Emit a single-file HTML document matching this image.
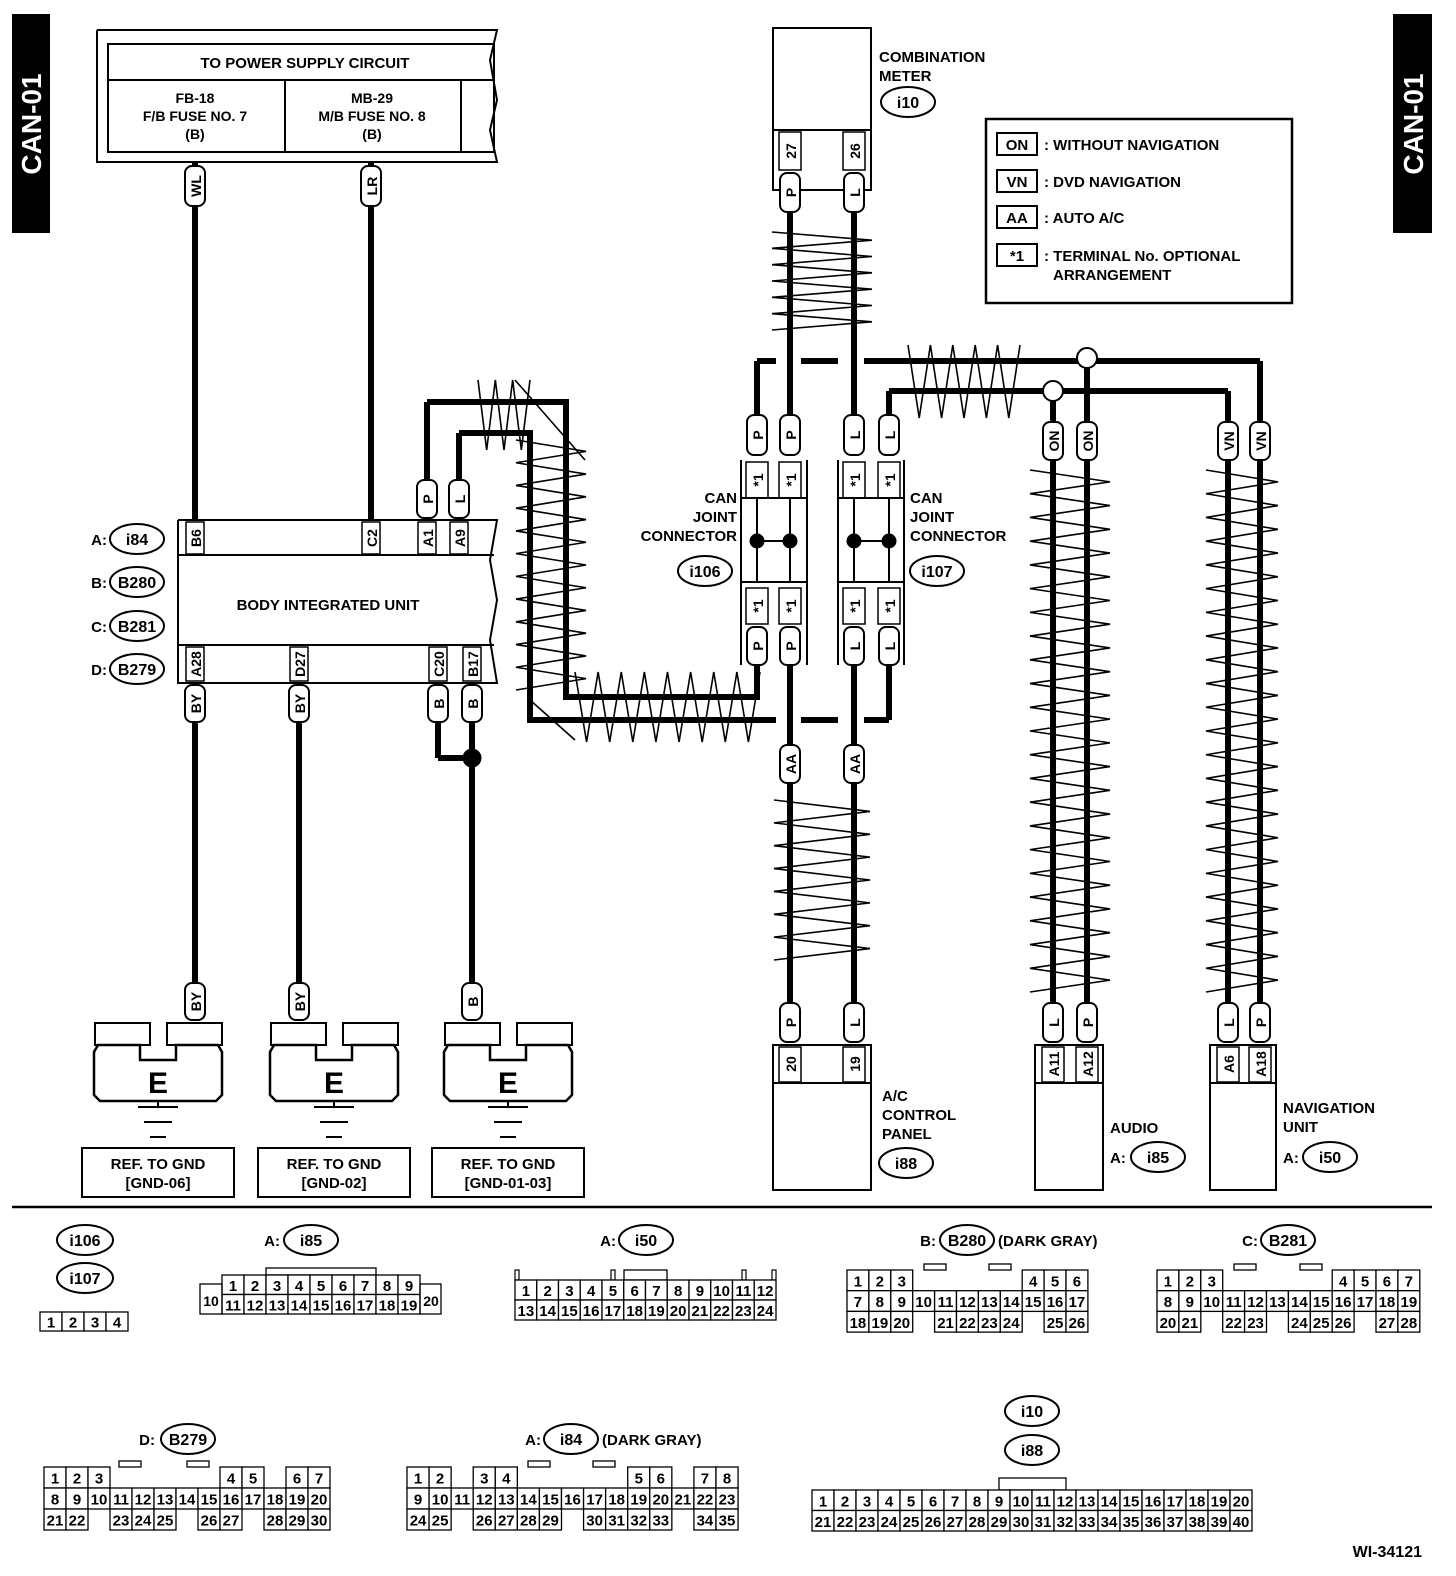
<!DOCTYPE html>
<html><head><meta charset="utf-8"><style>
html,body{margin:0;padding:0;background:#fff}
svg{display:block}
text{font-family:"Liberation Sans",Arial,sans-serif;font-weight:bold;fill:#000}
</style></head><body>
<svg id="s" width="1456" height="1576" viewBox="0 0 1456 1576" xmlns="http://www.w3.org/2000/svg">
<rect x="0" y="0" width="1456" height="1576" fill="#fff"/>
<rect x="12" y="14" width="38" height="219" fill="#000"/>
<text x="0" y="0" transform="translate(41,124) rotate(-90)" text-anchor="middle" font-size="28" style="fill:#fff">CAN-01</text>
<rect x="1393" y="14" width="39" height="219" fill="#000"/>
<text x="0" y="0" transform="translate(1423,124) rotate(-90)" text-anchor="middle" font-size="28" style="fill:#fff">CAN-01</text>
<g id="g" stroke="#000" fill="none"></g>
<g id="t"></g>
</svg>
<script>
const NS="http://www.w3.org/2000/svg";
const G=document.getElementById('g'),T=document.getElementById('t');
function el(p,tag,a,txt){const e=document.createElementNS(NS,tag);for(const k in a)e.setAttribute(k,a[k]);if(txt!==undefined)e.textContent=txt;p.appendChild(e);return e;}
function line(x1,y1,x2,y2,w){el(G,'line',{x1,y1,x2,y2,'stroke-width':w||2});}
function pl(pts,w){el(G,'polyline',{points:pts.map(p=>p.join(',')).join(' '),'stroke-width':w||2,'stroke-linejoin':'miter'});}
function rect(x,y,w,h,sw,fill){el(G,'rect',{x,y,width:w,height:h,'stroke-width':sw||2,fill:fill||'none'});}
function tx(x,y,s,fs,anchor,rot){const a={x,y,'font-size':fs||15,'text-anchor':anchor||'start'};if(rot){a.x=0;a.y=0;a.transform=`translate(${x},${y}) rotate(-90)`;}el(T,'text',a,s);}
function ell(cx,cy,rx,ry,s,fs){el(G,'ellipse',{cx,cy,rx,ry,'stroke-width':2,fill:'#fff'});tx(cx,cy+6,s,fs||16,'middle');}
function pill(x,y1,y2,s){el(G,'rect',{x:x-10,y:y1,width:20,height:y2-y1,rx:7,'stroke-width':2,fill:'#fff'});tx(x+6,(y1+y2)/2,s,14,'middle',1);}
function W(x1,y1,x2,y2){line(x1,y1,x2,y2,6);}
function zigV(xl,xr,y1,y2,n){let p=[];const st=(y2-y1)/n;for(let i=0;i<=n;i++)p.push([i%2?xr:xl,y1+i*st]);pl(p,1.6);}
function zigH(x1,x2,yt,yb,n){let p=[];const st=(x2-x1)/n;for(let i=0;i<=n;i++)p.push([x1+i*st,i%2?yb:yt]);pl(p,1.6);}

pl([[97,30],[497,30],[490,60],[497,100],[490,130],[497,162],[97,162],[97,30]],2);
rect(108,44,386,108,2);
line(108,80,494,80,2);line(285,80,285,152);line(461,80,461,152);
tx(305,68,'TO POWER SUPPLY CIRCUIT',15,'middle');
tx(195,103,'FB-18',14,'middle');tx(195,121,'F/B FUSE NO. 7',14,'middle');tx(195,139,'(B)',14,'middle');
tx(372,103,'MB-29',14,'middle');tx(372,121,'M/B FUSE NO. 8',14,'middle');tx(372,139,'(B)',14,'middle');

W(195,162,195,520);W(371,162,371,520);
pill(195,166,206,'WL');pill(371,166,206,'LR');

pl([[178,520],[497,520],[490,560],[497,600],[490,640],[497,683],[178,683],[178,520]],2);
line(178,555,494,555,2);line(178,645,494,645,2);
[[195,'B6'],[371,'C2'],[427,'A1'],[459,'A9']].forEach(a=>{rect(a[0]-9,522,18,32,1.5);tx(a[0]+6,538,a[1],14,'middle',1);});
[[195,'A28'],[299,'D27'],[438,'C20'],[472,'B17']].forEach(a=>{rect(a[0]-9,647,18,34,1.5);tx(a[0]+6,664,a[1],14,'middle',1);});
tx(328,610,'BODY INTEGRATED UNIT',15,'middle');
tx(107,545,'A:',15,'end');ell(137,539,27,15,'i84');
tx(107,588,'B:',15,'end');ell(137,582,27,15,'B280');
tx(107,632,'C:',15,'end');ell(137,626,27,15,'B281');
tx(107,675,'D:',15,'end');ell(137,669,27,15,'B279');

W(427,480,427,402);pl([[427,402],[566,402],[566,697],[757,697],[757,665]],6);
W(459,480,459,433);pl([[459,433],[530,433],[530,720],[776,720]],6);
line(801,720,838,720,6);line(864,720,889,720,6);W(889,720,889,665);
pill(427,480,518,'P');pill(459,480,518,'L');
zigH(478,530,380,450,6);
zigV(516,586,440,690,22);
pl([[515,380],[585,460]],1.6);pl([[530,700],[575,740]],1.6);
zigH(575,760,672,742,16);

W(195,683,195,985);W(299,683,299,985);
W(438,683,438,758);W(438,758,472,758);W(472,683,472,985);
el(G,'circle',{cx:472,cy:758,r:9,fill:'#000','stroke-width':1});
pill(195,685,722,'BY');pill(299,685,722,'BY');pill(438,685,722,'B');pill(472,685,722,'B');
pill(195,983,1020,'BY');pill(299,983,1020,'BY');pill(472,983,1020,'B');

[[158,'REF. TO GND','[GND-06]'],[334,'REF. TO GND','[GND-02]'],[508,'REF. TO GND','[GND-01-03]']].forEach(g=>{
 const c=g[0];
 rect(c-63,1023,55,22,2);rect(c+9,1023,55,22,2);
 el(G,'path',{d:`M${c-60} 1045 H${c-18} V1060 H${c+18} V1045 H${c+60} L${c+64} 1052 V1095 L${c+58} 1101 H${c-58} L${c-64} 1095 V1052 Z`,'stroke-width':2.5,fill:'#fff'});
 tx(c,1093,'E',30,'middle');
 line(c,1101,c,1107,2);line(c-20,1107,c+20,1107,2);line(c-14,1122,c+14,1122,2);line(c-8,1137,c+8,1137,2);
 rect(c-76,1148,152,49,2);tx(c,1169,g[1],15,'middle');tx(c,1188,g[2],15,'middle');
});

rect(773,28,98,162,2);line(773,130,871,130,2);
rect(779,132,22,38,1.5);rect(843,132,22,38,1.5);
tx(796,151,'27',14,'middle',1);tx(860,151,'26',14,'middle',1);
tx(879,62,'COMBINATION',15);tx(879,81,'METER',15);ell(908,102,27,15,'i10');
W(790,212,790,415);W(854,212,854,415);
pill(790,173,212,'P');pill(854,173,212,'L');
zigV(772,872,232,330,12);

line(757,361,776,361,6);line(801,361,838,361,6);line(864,361,1260,361,6);
W(757,361,757,415);
line(889,391,1053,391,6);line(1053,391,1228,391,6);W(889,391,889,415);
W(1087,361,1087,422);W(1053,391,1053,422);W(1228,391,1228,422);W(1260,361,1260,422);
el(G,'circle',{cx:1087,cy:358,r:10,fill:'#fff','stroke-width':2});
el(G,'circle',{cx:1053,cy:391,r:10,fill:'#fff','stroke-width':2});
zigH(908,1020,345,418,10);
pill(757,415,455,'P');pill(790,415,455,'P');pill(854,415,455,'L');pill(889,415,455,'L');

[[741,757,790,'i106'],[838,854,889,'i107']].forEach(c=>{
 const x0=c[0],a=c[1],b=c[2];
 line(x0,460,x0,665,2);line(x0+66,460,x0+66,665,2);
 rect(a-11,462,22,36,1.5);rect(b-11,462,22,36,1.5);line(x0,498,x0+66,498,2);
 rect(a-11,588,22,36,1.5);rect(b-11,588,22,36,1.5);line(x0,582,x0+66,582,2);
 tx(a+6,480,'*1',14,'middle',1);tx(b+6,480,'*1',14,'middle',1);
 tx(a+6,606,'*1',14,'middle',1);tx(b+6,606,'*1',14,'middle',1);
 line(a,498,a,582,2);line(b,498,b,582,2);line(a,541,b,541,2);
 el(G,'circle',{cx:a,cy:541,r:7,fill:'#000'});el(G,'circle',{cx:b,cy:541,r:7,fill:'#000'});
});
pill(757,627,665,'P');pill(790,627,665,'P');pill(854,627,665,'L');pill(889,627,665,'L');
tx(737,503,'CAN',15,'end');tx(737,522,'JOINT',15,'end');tx(737,541,'CONNECTOR',15,'end');ell(705,571,27,15,'i106');
tx(910,503,'CAN',15);tx(910,522,'JOINT',15);tx(910,541,'CONNECTOR',15);ell(937,571,27,15,'i107');

W(790,665,790,1003);W(854,665,854,1003);
pill(790,745,783,'AA');pill(854,745,783,'AA');
zigV(774,870,800,960,14);
pill(790,1003,1042,'P');pill(854,1003,1042,'L');
rect(773,1045,98,145,2);line(773,1083,871,1083,2);
rect(779,1047,22,35,1.5);rect(843,1047,22,35,1.5);
tx(796,1064,'20',14,'middle',1);tx(860,1064,'19',14,'middle',1);
tx(882,1101,'A/C',15);tx(882,1120,'CONTROL',15);tx(882,1139,'PANEL',15);ell(906,1163,27,15,'i88');

W(1053,460,1053,1003);W(1087,460,1087,1003);
pill(1053,422,460,'ON');pill(1087,422,460,'ON');
zigV(1030,1110,470,992,44);
pill(1053,1003,1042,'L');pill(1087,1003,1042,'P');
rect(1035,1045,68,145,2);line(1035,1083,1103,1083,2);
rect(1042,1047,22,35,1.5);rect(1076,1047,22,35,1.5);
tx(1059,1064,'A11',14,'middle',1);tx(1093,1064,'A12',14,'middle',1);
tx(1110,1133,'AUDIO',15);tx(1110,1163,'A:',15);ell(1158,1157,27,15,'i85');

W(1228,460,1228,1003);W(1260,460,1260,1003);
pill(1228,422,460,'VN');pill(1260,422,460,'VN');
zigV(1206,1278,470,992,44);
pill(1228,1003,1042,'L');pill(1260,1003,1042,'P');
rect(1210,1045,66,145,2);line(1210,1083,1276,1083,2);
rect(1217,1047,22,35,1.5);rect(1249,1047,22,35,1.5);
tx(1234,1064,'A6',14,'middle',1);tx(1266,1064,'A18',14,'middle',1);
tx(1283,1113,'NAVIGATION',15);tx(1283,1132,'UNIT',15);tx(1283,1163,'A:',15);ell(1330,1157,27,15,'i50');

rect(986,119,306,184,2.5);
[[144,'ON',': WITHOUT NAVIGATION'],[181,'VN',': DVD NAVIGATION'],[217,'AA',': AUTO A/C'],[255,'*1',': TERMINAL No. OPTIONAL']].forEach(l=>{
 rect(997,l[0]-11,40,22,2);tx(1017,l[0]+6,l[1],15,'middle');tx(1044,l[0]+6,l[2],15);
});
tx(1053,280,'ARRANGEMENT',15);

line(12,1207,1432,1207,2.5);

function grid(x,y,cw,ch,rows){rows.forEach((r,ri)=>r.forEach((v,ci)=>{if(v===null)return;rect(x+ci*cw,y+ri*ch,cw,ch,1.3,'#fff');tx(x+ci*cw+cw/2,y+ri*ch+ch/2+6,String(v),15,'middle');}));}
function seq(a,b){let r=[];for(let i=a;i<=b;i++)r.push(i);return r;}
const N=null;
ell(85,1240,28,15,'i106');ell(85,1278,28,15,'i107');
grid(40,1312,22,19,[[1,2,3,4]]);
tx(280,1246,'A:',15,'end');ell(311,1240,27,15,'i85');
rect(266,1268,110,7,1.3);
grid(222,1275,22,19.5,[seq(1,9),seq(11,19)]);
rect(200,1284,22,30,1.3);tx(211,1306,'10',14,'middle');
rect(420,1284,21,30,1.3);tx(431,1306,'20',14,'middle');
tx(616,1246,'A:',15,'end');ell(646,1240,27,15,'i50');
[515,611,742,772].forEach(x=>rect(x,1270,4,10,1.2));rect(624,1270,43,10,1.3);
grid(515,1280,21.75,20,[seq(1,12),seq(13,24)]);
tx(936,1246,'B:',15,'end');ell(967,1240,27,15,'B280');tx(998,1246,'(DARK GRAY)',15);
rect(924,1264,22,6,1.3);rect(989,1264,22,6,1.3);
grid(847,1270,21.9,20.7,[[1,2,3,N,N,N,N,N,4,5,6],seq(7,17),[18,19,20,N,21,22,23,24,N,25,26]]);
tx(1258,1246,'C:',15,'end');ell(1288,1240,27,15,'B281');
rect(1234,1264,22,6,1.3);rect(1300,1264,22,6,1.3);
grid(1157,1270,21.9,20.7,[[1,2,3,N,N,N,N,N,4,5,6,7],seq(8,19),[20,21,N,22,23,N,24,25,26,N,27,28]]);
tx(155,1445,'D:',15,'end');ell(188,1439,27,15,'B279');
rect(119,1461,22,6,1.3);rect(187,1461,22,6,1.3);
grid(44,1467,22,21,[[1,2,3,N,N,N,N,N,4,5,N,6,7],seq(8,20),[21,22,N,23,24,25,N,26,27,N,28,29,30]]);
tx(541,1445,'A:',15,'end');ell(571,1439,27,15,'i84');tx(602,1445,'(DARK GRAY)',15);
rect(528,1461,22,6,1.3);rect(593,1461,22,6,1.3);
grid(407,1467,22.07,21,[[1,2,N,3,4,N,N,N,N,N,5,6,N,7,8],seq(9,23),[24,25,N,26,27,28,29,N,30,31,32,33,N,34,35]]);
ell(1032,1411,27,15,'i10');ell(1032,1450,27,15,'i88');
rect(999,1478,67,12,1.3);
grid(812,1490,22,20.5,[seq(1,20),seq(21,40)]);
tx(1422,1557,'WI-34121',16,'end');
</script>
</body></html>
